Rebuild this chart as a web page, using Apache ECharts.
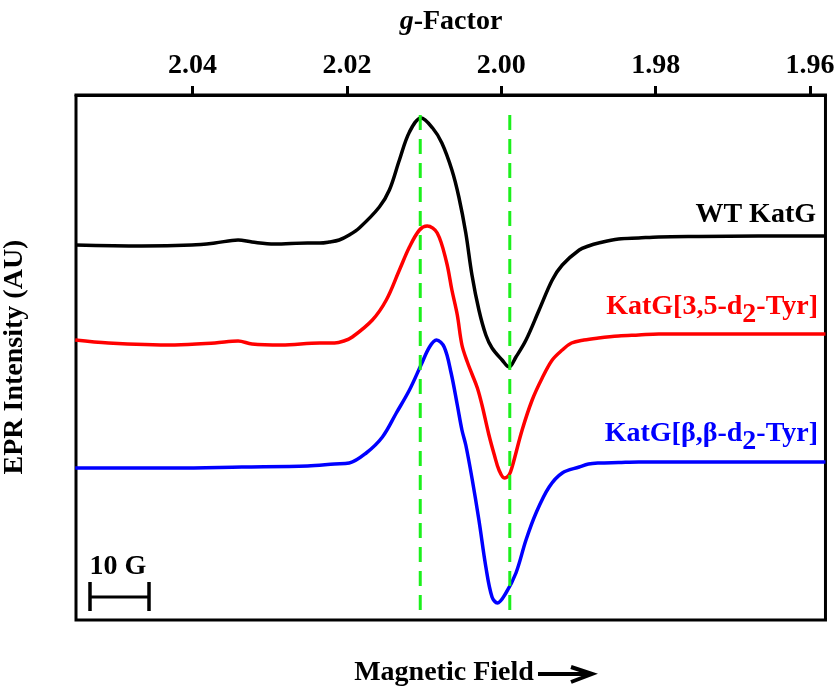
<!DOCTYPE html>
<html>
<head>
<meta charset="utf-8">
<script src="https://cdn.jsdelivr.net/npm/echarts@6/dist/echarts.min.js"></script>
<style>
html,body{margin:0;padding:0;background:#fff;}
#chart{width:839px;height:689px;}
</style>
</head>
<body>
<div id="chart"></div>
<script>
// g-factor tick labels on top axis
const gTicks = [2.04, 2.02, 2.00, 1.98, 1.96];

// WT KatG (black)
const gBlack = [2.0552, 2.0466, 2.0401, 2.0371, 2.0341, 2.0323, 2.0294, 2.0251, 2.0235, 2.0223, 2.0210, 2.0197, 2.0184, 2.0158, 2.0145, 2.0132, 2.0119, 2.0104, 2.0089, 2.0077, 2.0064, 2.0055, 2.0046, 2.0038, 2.0029, 2.0020, 2.0012, 1.9999, 1.9990, 1.9981, 1.9968, 1.9951, 1.9934, 1.9921, 1.9899, 1.9887, 1.9874, 1.9848, 1.9822, 1.9796, 1.9744, 1.9667, 1.9580];
const yBlack = [375, 374, 375, 377, 380, 378, 376, 377, 377, 378, 380, 385, 392, 413, 430, 460, 488, 502, 492, 477, 450, 423, 387, 345, 310, 285, 272, 260, 253, 263, 280, 310, 340, 355, 370, 374, 377, 381, 382, 383, 383.5, 384, 384];

// KatG[3,5-d2-Tyr] (red)
const gRed = [2.0552, 2.0509, 2.0423, 2.0371, 2.0341, 2.0323, 2.0285, 2.0235, 2.0216, 2.0204, 2.0193, 2.0167, 2.0149, 2.0132, 2.0119, 2.0106, 2.0096, 2.0083, 2.0071, 2.0064, 2.0057, 2.0051, 2.0044, 2.0038, 2.0031, 2.0025, 2.0016, 2.0009, 2.0003, 1.9996, 1.9990, 1.9986, 1.9973, 1.9960, 1.9947, 1.9934, 1.9921, 1.9909, 1.9893, 1.9874, 1.9848, 1.9822, 1.9796, 1.9744, 1.9667, 1.9580];
const yRed = [280, 277, 275, 277, 279, 276, 275, 277, 277, 279, 283, 300, 320, 350, 373, 390, 394, 387, 358, 330, 305, 275, 258, 246, 232, 215, 185, 165, 150, 142, 145, 153, 190, 220, 242, 260, 270, 277, 280, 282, 284, 285, 286, 286, 286, 286];

// KatG[β,β-d2-Tyr] (blue)
const gBlue = [2.0552, 2.0423, 2.0336, 2.0251, 2.0216, 2.0197, 2.0175, 2.0154, 2.0136, 2.0119, 2.0104, 2.0093, 2.0084, 2.0074, 2.0065, 2.0057, 2.0051, 2.0046, 2.0038, 2.0029, 2.0020, 2.0012, 2.0005, 1.9994, 1.9981, 1.9968, 1.9955, 1.9938, 1.9921, 1.9899, 1.9887, 1.9874, 1.9848, 1.9822, 1.9796, 1.9744, 1.9667, 1.9580];
const yBlue = [152, 152, 153, 154, 156, 157, 167, 183, 207, 230, 255, 273, 280, 273, 247, 215, 190, 175, 142, 100, 53, 23, 17, 27, 47, 80, 107, 133, 147, 153, 156, 157, 157.5, 158, 158, 158, 158, 158];

// guide lines (green dashed)
const gGuides = [2.0105, 1.9989];
const guideRange = [10, 513];

const FONT = 'Liberation Serif';
const zip = (xs, ys) => xs.map((x, i) => [x, ys[i]]);

function traceSeries(name, xs, ys, color) {
  return {
    name: name, type: 'line', data: zip(xs, ys),
    smooth: 0.35, symbol: 'none',
    lineStyle: { color: color, width: 3.5 }, silent: true, animation: false
  };
}

const series = [
  traceSeries('WT KatG', gBlack, yBlack, '#000000'),
  traceSeries('KatG[3,5-d2-Tyr]', gRed, yRed, '#ff0000'),
  traceSeries('KatG[β,β-d2-Tyr]', gBlue, yBlue, '#0000ff')
];
gGuides.forEach(g => {
  series.push({
    type: 'line', data: [[g, guideRange[0]], [g, guideRange[1]]],
    symbol: 'none', silent: true, animation: false,
    lineStyle: { color: '#1cf01c', width: 3, type: [15, 9] }
  });
});

const chart = echarts.init(document.getElementById('chart'), null, { renderer: 'canvas' });
const txt = (extra) => Object.assign({ fontFamily: FONT, fontWeight: 'bold', fontSize: 28, fill: '#000' }, extra);

chart.setOption({
  animation: false,
  backgroundColor: '#fff',
  grid: { left: 76, right: 12, top: 95, bottom: 69, show: true, borderColor: '#000', borderWidth: 3, backgroundColor: 'transparent' },
  xAxis: {
    type: 'value', position: 'top', inverse: true, min: 1.958, max: 2.0551,
    axisLine: { show: true, onZero: false, lineStyle: { color: '#000', width: 3 } },
    axisTick: { show: true, inside: false, length: 9, lineStyle: { color: '#000', width: 3 }, customValues: gTicks },
    axisLabel: { show: true, customValues: gTicks, formatter: v => v.toFixed(2), color: '#000', fontFamily: FONT, fontWeight: 'bold', fontSize: 28, margin: 15 },
    splitLine: { show: false }
  },
  yAxis: { type: 'value', min: 0, max: 525, show: false },
  series: series,
  graphic: [
    { type: 'text', x: 451, y: 22, style: txt({ text: '{i|g}{n|-Factor}', textAlign: 'center', textVerticalAlign: 'middle',
      rich: { i: { fontFamily: FONT, fontWeight: 'bold', fontStyle: 'italic', fontSize: 28, fill: '#000' }, n: { fontFamily: FONT, fontWeight: 'bold', fontSize: 28, fill: '#000' } } }) },
    { type: 'text', x: 15, y: 357, rotation: Math.PI / 2, style: txt({ text: 'EPR Intensity (AU)', textAlign: 'center', textVerticalAlign: 'middle' }) },
    { type: 'text', x: 444, y: 673, style: txt({ text: 'Magnetic Field', textAlign: 'center', textVerticalAlign: 'middle' }) },
    { type: 'polyline', shape: { points: [[538, 674], [588, 674]] }, style: { stroke: '#000', lineWidth: 4 } },
    { type: 'polyline', shape: { points: [[571, 667], [592, 674], [571, 682]] }, style: { stroke: '#000', lineWidth: 4, fill: null } },
    { type: 'text', x: 816, y: 215, style: txt({ text: 'WT KatG', textAlign: 'right', textVerticalAlign: 'middle' }) },
    { type: 'text', x: 818, y: 311, style: txt({ text: '{n|KatG[3,5-d}{s|2}{n|-Tyr]}', textAlign: 'right', textVerticalAlign: 'middle', fill: '#ff0000',
      rich: { n: { fontFamily: FONT, fontWeight: 'bold', fontSize: 28, fill: '#ff0000', verticalAlign: 'top' }, s: { fontFamily: FONT, fontWeight: 'bold', fontSize: 28, fill: '#ff0000', verticalAlign: 'top', padding: [8, 0, 0, 0] } } }) },
    { type: 'text', x: 818, y: 438, style: txt({ text: '{n|KatG[β,β-d}{s|2}{n|-Tyr]}', textAlign: 'right', textVerticalAlign: 'middle', fill: '#0000ff',
      rich: { n: { fontFamily: FONT, fontWeight: 'bold', fontSize: 28, fill: '#0000ff', verticalAlign: 'top' }, s: { fontFamily: FONT, fontWeight: 'bold', fontSize: 28, fill: '#0000ff', verticalAlign: 'top', padding: [8, 0, 0, 0] } } }) },
    { type: 'text', x: 118, y: 567, style: txt({ text: '10 G', textAlign: 'center', textVerticalAlign: 'middle' }) },
    { type: 'polyline', shape: { points: [[90, 597], [149, 597]] }, style: { stroke: '#000', lineWidth: 3 } },
    { type: 'polyline', shape: { points: [[90, 582], [90, 611]] }, style: { stroke: '#000', lineWidth: 3.5 } },
    { type: 'polyline', shape: { points: [[149, 582], [149, 611]] }, style: { stroke: '#000', lineWidth: 3.5 } }
  ]
});
</script>
</body>
</html>
